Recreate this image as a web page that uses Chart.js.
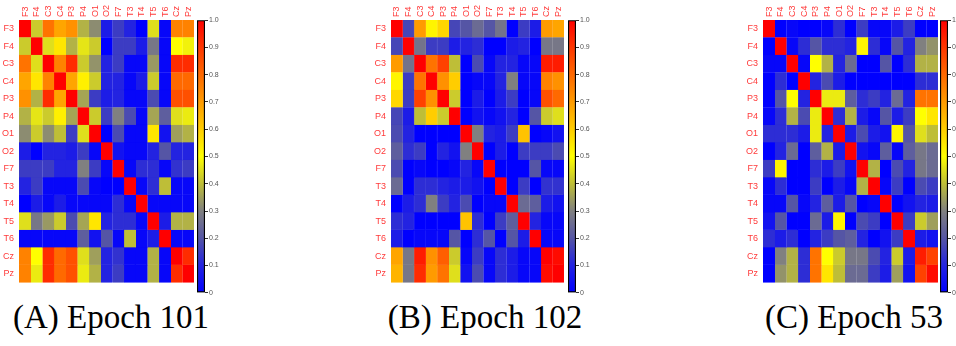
<!DOCTYPE html>
<html>
<head>
<meta charset="utf-8">
<script src="https://cdn.jsdelivr.net/npm/chart.js@4"></script>
<style>
  body { margin: 0; background: #fff; width: 956px; height: 346px; position: relative; overflow: hidden; }
  canvas { position: absolute; }
  .cap { position: absolute; top: 299px; width: 260px; text-align: center;
         font-family: 'Liberation Serif', serif; font-size: 33px; color: #000; white-space: nowrap; }
</style>
</head>
<body>
<canvas id="hA"></canvas><canvas id="bA"></canvas>
<canvas id="hB"></canvas><canvas id="bB"></canvas>
<canvas id="hC"></canvas><canvas id="bC"></canvas>
<div class="cap" id="capA">(A) Epoch 101</div>
<div class="cap" id="capB">(B) Epoch 102</div>
<div class="cap" id="capC">(C) Epoch 53</div>
<script>
// canales EEG (filas = columnas)
const CANALES = ['F3','F4','C3','C4','P3','P4','O1','O2','F7','T3','T4','T5','T6','Cz','Pz'];

// matriz de conectividad, época 101
const EPOCA_101 = [
  [1.00,0.42,0.78,0.68,0.72,0.38,0.32,0.08,0.15,0.10,0.00,0.45,0.02,0.75,0.75],
  [0.42,1.00,0.45,0.55,0.38,0.46,0.42,0.00,0.15,0.15,0.08,0.28,0.02,0.50,0.48],
  [0.78,0.45,1.00,0.75,0.92,0.42,0.33,0.10,0.15,0.02,0.02,0.34,0.02,0.92,0.92],
  [0.68,0.55,0.75,1.00,0.68,0.53,0.42,0.10,0.10,0.02,0.08,0.42,0.02,0.80,0.80],
  [0.72,0.38,0.92,0.68,1.00,0.36,0.15,0.08,0.10,0.02,0.02,0.18,0.02,0.85,0.85],
  [0.38,0.46,0.42,0.53,0.36,1.00,0.42,0.15,0.30,0.18,0.02,0.36,0.22,0.45,0.47],
  [0.32,0.42,0.32,0.40,0.15,0.45,1.00,0.00,0.18,0.02,0.02,0.55,0.05,0.35,0.38],
  [0.08,0.00,0.10,0.10,0.08,0.15,0.02,1.00,0.05,0.02,0.02,0.10,0.20,0.10,0.10],
  [0.15,0.15,0.15,0.10,0.10,0.30,0.15,0.02,1.00,0.02,0.12,0.12,0.02,0.13,0.15],
  [0.10,0.15,0.02,0.02,0.02,0.18,0.02,0.00,0.00,1.00,0.02,0.12,0.40,0.02,0.02],
  [0.00,0.08,0.02,0.08,0.02,0.02,0.02,0.02,0.12,0.02,1.00,0.02,0.02,0.02,0.02],
  [0.45,0.28,0.34,0.42,0.18,0.36,0.55,0.10,0.12,0.12,0.02,1.00,0.08,0.38,0.38],
  [0.02,0.02,0.02,0.02,0.02,0.22,0.05,0.20,0.02,0.40,0.02,0.08,1.00,0.02,0.02],
  [0.75,0.50,0.92,0.80,0.85,0.45,0.35,0.10,0.13,0.02,0.02,0.38,0.02,1.00,0.92],
  [0.75,0.47,0.92,0.80,0.85,0.47,0.38,0.10,0.15,0.02,0.02,0.38,0.02,0.92,1.00],
];

// época 102
const EPOCA_102 = [
  [1.00,0.17,0.70,0.52,0.58,0.17,0.20,0.25,0.20,0.27,0.00,0.15,0.08,0.70,0.68],
  [0.17,1.00,0.27,0.15,0.15,0.08,0.10,0.12,0.00,0.00,0.08,0.10,0.00,0.28,0.28],
  [0.70,0.27,1.00,0.78,0.88,0.40,0.00,0.18,0.02,0.10,0.10,0.02,0.02,0.95,0.95],
  [0.52,0.15,0.78,1.00,0.72,0.60,0.00,0.02,0.02,0.10,0.30,0.02,0.02,0.75,0.72],
  [0.58,0.15,0.88,0.72,1.00,0.42,0.00,0.08,0.00,0.08,0.15,0.00,0.02,0.85,0.80],
  [0.17,0.08,0.40,0.60,0.42,1.00,0.00,0.05,0.02,0.05,0.10,0.00,0.20,0.42,0.45],
  [0.18,0.10,0.00,0.00,0.00,0.00,1.00,0.30,0.10,0.08,0.15,0.62,0.00,0.02,0.05],
  [0.22,0.12,0.15,0.00,0.10,0.05,0.30,1.00,0.00,0.08,0.00,0.15,0.15,0.15,0.18],
  [0.18,0.00,0.02,0.00,0.00,0.02,0.10,0.02,1.00,0.00,0.00,0.00,0.20,0.02,0.02],
  [0.25,0.00,0.12,0.12,0.10,0.08,0.08,0.05,0.00,1.00,0.00,0.15,0.00,0.13,0.13],
  [0.00,0.08,0.12,0.30,0.15,0.10,0.18,0.00,0.02,0.02,1.00,0.25,0.22,0.08,0.05],
  [0.12,0.10,0.00,0.00,0.00,0.00,0.62,0.12,0.00,0.15,0.22,1.00,0.10,0.02,0.02],
  [0.08,0.00,0.02,0.02,0.02,0.20,0.00,0.12,0.20,0.00,0.20,0.08,1.00,0.02,0.02],
  [0.68,0.28,0.95,0.72,0.82,0.42,0.02,0.15,0.02,0.12,0.08,0.02,0.02,1.00,0.98],
  [0.65,0.28,0.92,0.70,0.78,0.45,0.05,0.18,0.02,0.12,0.08,0.02,0.02,0.98,1.00],
];

// época 53
const EPOCA_53 = [
  [1.00,0.00,0.02,0.00,0.00,0.02,0.12,0.00,0.15,0.02,0.02,0.08,0.15,0.00,0.00],
  [0.00,1.00,0.02,0.12,0.20,0.12,0.12,0.10,0.52,0.12,0.02,0.20,0.10,0.30,0.33],
  [0.02,0.02,1.00,0.02,0.50,0.38,0.10,0.25,0.00,0.00,0.20,0.00,0.12,0.38,0.38],
  [0.00,0.12,0.00,1.00,0.10,0.18,0.08,0.00,0.00,0.00,0.00,0.00,0.00,0.12,0.12],
  [0.00,0.20,0.50,0.10,1.00,0.47,0.47,0.22,0.12,0.15,0.10,0.25,0.10,0.78,0.78],
  [0.02,0.12,0.38,0.18,0.47,1.00,0.12,0.38,0.08,0.02,0.20,0.08,0.15,0.50,0.55],
  [0.12,0.12,0.12,0.08,0.47,0.10,1.00,0.08,0.18,0.08,0.05,0.52,0.20,0.45,0.40],
  [0.00,0.10,0.25,0.00,0.22,0.38,0.08,1.00,0.05,0.02,0.22,0.02,0.22,0.28,0.25],
  [0.15,0.52,0.00,0.00,0.12,0.08,0.15,0.05,1.00,0.38,0.00,0.18,0.10,0.28,0.25],
  [0.02,0.12,0.00,0.00,0.15,0.00,0.08,0.02,0.38,1.00,0.02,0.15,0.00,0.18,0.15],
  [0.02,0.02,0.20,0.02,0.10,0.22,0.08,0.20,0.00,0.02,1.00,0.00,0.05,0.10,0.08],
  [0.05,0.20,0.00,0.00,0.25,0.08,0.52,0.00,0.18,0.15,0.00,1.00,0.15,0.42,0.35],
  [0.12,0.08,0.12,0.00,0.10,0.15,0.20,0.22,0.10,0.00,0.05,0.15,1.00,0.08,0.05],
  [0.00,0.30,0.38,0.12,0.78,0.50,0.42,0.28,0.28,0.18,0.10,0.42,0.08,0.95,0.88],
  [0.00,0.33,0.38,0.12,0.78,0.55,0.40,0.25,0.25,0.15,0.08,0.35,0.05,0.88,0.98],
];

// mapa de color: azul -> gris -> amarillo -> rojo
const MAPA = [
  [0.0, [0, 0, 255]], [0.1, [35, 35, 225]], [0.2, [85, 85, 165]], [0.3, [128, 128, 128]],
  [0.4, [190, 190, 55]], [0.5, [255, 255, 0]], [0.6, [255, 205, 0]], [0.7, [255, 155, 0]],
  [0.8, [255, 105, 0]], [0.9, [255, 55, 0]], [1.0, [255, 0, 0]],
];

function colorDe(v) {
  v = Math.max(0, Math.min(1, v));
  for (let i = 1; i < MAPA.length; i++) {
    const [v1, c1] = MAPA[i];
    const [v0, c0] = MAPA[i - 1];
    if (v <= v1) {
      const t = (v - v0) / (v1 - v0);
      const c = c0.map((x, k) => Math.round(x + (c1[k] - x) * t));
      return `rgb(${c[0]},${c[1]},${c[2]})`;
    }
  }
  return 'rgb(255,0,0)';
}

const ROJO = '#ff3a3a';
const fuenteEje = { family: 'Liberation Sans, Arial, sans-serif', size: 9 };
const sinGrilla = { display: false, drawTicks: false };

function prepCanvas(id, left, top, w, h) {
  const el = document.getElementById(id);
  el.width = w; el.height = h;
  el.style.left = left + 'px'; el.style.top = top + 'px';
  el.style.width = w + 'px'; el.style.height = h + 'px';
  return el;
}

// heatmap = barras horizontales apiladas, una por columna
function mapaCalor(id, left, matriz, ancho) {
  const el = prepCanvas(id, left, 0, 19 + ancho, 293);
  const datasets = CANALES.map((c, j) => ({
    label: c,
    data: CANALES.map(() => 1),
    backgroundColor: matriz.map(fila => colorDe(fila[j])),
    borderColor: matriz.map(fila => colorDe(fila[j])),
    borderWidth: 0.6,
    barPercentage: 1, categoryPercentage: 1,
  }));
  new Chart(el, {
    type: 'bar',
    data: { labels: CANALES, datasets },
    options: {
      indexAxis: 'y', responsive: false, animation: false,
      layout: { padding: 0 },
      plugins: { legend: { display: false }, tooltip: { enabled: false } },
      scales: {
        x: { type: 'linear', stacked: true, min: 0, max: CANALES.length, display: false },
        // etiquetas verticales arriba; labelOffset corrige el corrimiento del texto rotado
        xc: { type: 'category', labels: CANALES, position: 'top', offset: true,
              grid: sinGrilla, border: { display: false },
              ticks: { color: ROJO, font: fuenteEje, minRotation: 90, maxRotation: 90, autoSkip: false,
                       padding: 3, labelOffset: 11 },
              afterFit: s => { s.height = 20; } },
        y: { stacked: true, grid: sinGrilla, border: { display: false },
             ticks: { color: ROJO, font: fuenteEje, autoSkip: false, padding: 5 },
             afterFit: s => { s.width = 19; } },
      },
    },
  });
}

// barra de color con eje 0..1
function barraColor(id, left) {
  const el = prepCanvas(id, left, 15, 32, 283);
  new Chart(el, {
    type: 'bar',
    data: { labels: [''], datasets: [{
      data: [[0, 1]],
      backgroundColor: c => {
        const a = c.chart.chartArea;
        if (!a) return '#00f';
        const g = c.chart.ctx.createLinearGradient(0, a.bottom, 0, a.top);
        MAPA.forEach(([v]) => g.addColorStop(v, colorDe(v)));
        return g;
      },
      borderColor: '#000', borderWidth: 1.5, borderSkipped: false,
      barPercentage: 1, categoryPercentage: 1,
    }] },
    options: {
      responsive: false, animation: false,
      layout: { padding: { top: 5, bottom: 5 } },
      plugins: { legend: { display: false }, tooltip: { enabled: false } },
      scales: {
        x: { display: false },
        y: { position: 'right', min: 0, max: 1,
             ticks: { stepSize: 0.1, color: '#555', font: { family: 'Liberation Sans, Arial, sans-serif', size: 7 }, padding: 1 },
             grid: { drawOnChartArea: false, tickLength: 3, color: '#333' },
             border: { display: false },
             afterFit: s => { s.width = 24; } },
      },
    },
  });
}

mapaCalor('hA', 0, EPOCA_101, 175);
barraColor('bA', 197);
mapaCalor('hB', 372, EPOCA_102, 173);
barraColor('bB', 568);
mapaCalor('hC', 744, EPOCA_53, 175);
barraColor('bC', 940);

// pies de figura centrados bajo cada panel
[['capA', 111], ['capB', 485], ['capC', 854]].forEach(([id, cx]) => {
  document.getElementById(id).style.left = (cx - 130) + 'px';
});
</script>
</body>
</html>
